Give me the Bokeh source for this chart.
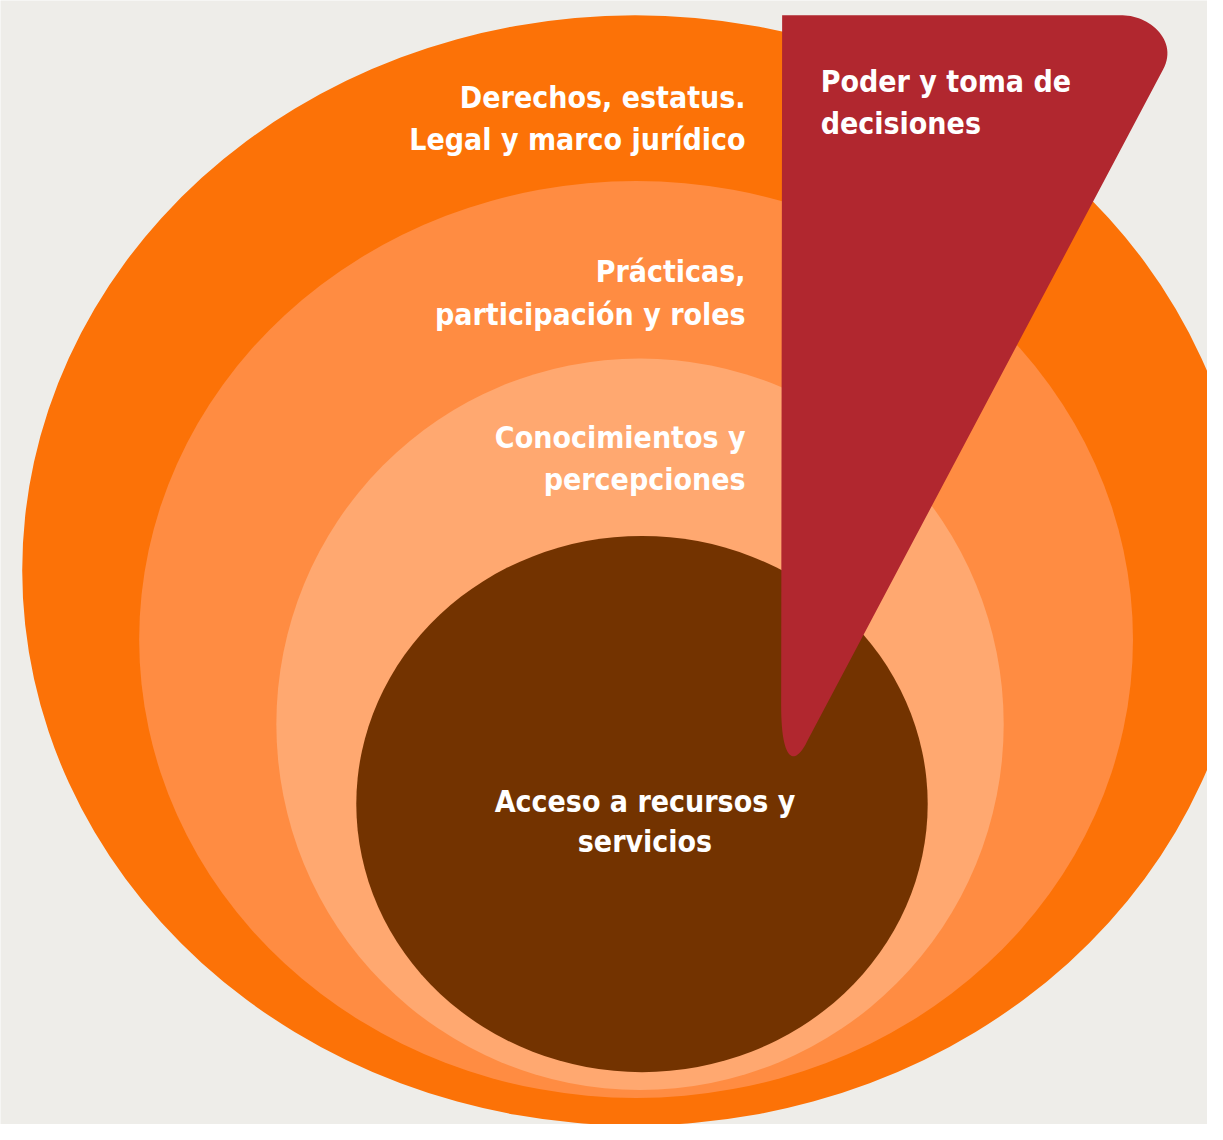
import numpy as np
from bokeh.plotting import figure
from bokeh.models import Range1d, ColumnDataSource
from bokeh.core.properties import value
from bokeh.embed import file_html
from bokeh.resources import INLINE

# ---- data (reference pixel coordinates, y grows downward) ----
ring_names = ["Derechos", "Prácticas", "Conocimientos", "Acceso"]
ring_cx = [643, 644, 648, 650]
ring_cy = [578, 648, 734, 815]
ring_w = [1242, 1007, 737, 579]
ring_h = [1126, 930, 742, 544]
ring_colors = ["#FC7207", "#FF8C42", "#FFA870", "#733300"]

# wedge outline: straight and cubic segments
wedge_start = (792, 15)
wedge_segments = [
    ("L", [(1137, 15)]),
    ("C", [(1163, 15), (1194, 40), (1178, 70)]),
    ("L", [(818, 750)]),
    ("C", [(806, 776), (791, 776), (791, 715)]),
    ("L", [(792, 15)]),
]
wedge_color = "#B1272F"

label_lines = ["Derechos, estatus.", "Legal y marco jurídico",
               "Prácticas,", "participación y roles",
               "Conocimientos y", "percepciones",
               "Acceso a recursos y", "servicios",
               "Poder y toma de", "decisiones"]
label_x = [755, 755, 755, 755, 755, 755, 653, 653, 831, 831]
label_y = [98, 141, 275, 318, 443, 486, 812, 853, 82, 125]
label_align = ["right"] * 6 + ["center"] * 2 + ["left"] * 2

BG = "#EEEDE9"

def build_path(start, segs, n=30):
    xs, ys = [start[0]], [start[1]]
    cur = start
    for kind, pts in segs:
        if kind == "L":
            xs.append(pts[0][0]); ys.append(pts[0][1]); cur = pts[0]
        else:
            p0 = np.array(cur, float)
            p1, p2, p3 = (np.array(q, float) for q in pts)
            t = np.linspace(0, 1, n)[1:, None]
            b = ((1 - t) ** 3) * p0 + 3 * ((1 - t) ** 2) * t * p1 + 3 * (1 - t) * t ** 2 * p2 + t ** 3 * p3
            xs.extend(b[:, 0]); ys.extend(b[:, 1]); cur = pts[-1]
    return xs, ys

W, H = 1207, 1124
p = figure(width=W, height=H, output_backend="svg", toolbar_location=None,
           x_range=Range1d(0, 1223), y_range=Range1d(1140, 0),
           min_border=0, background_fill_color=BG, border_fill_color=BG,
           outline_line_color=None)
p.axis.visible = False
p.grid.visible = False

src = ColumnDataSource(dict(x=ring_cx, y=ring_cy, w=ring_w, h=ring_h, c=ring_colors))
p.ellipse(x="x", y="y", width="w", height="h", fill_color="c", line_color=None, source=src)

wx, wy = build_path(wedge_start, wedge_segments)
p.patch(wx, wy, fill_color=wedge_color, line_color=None)

tsrc = ColumnDataSource(dict(x=label_x, y=label_y, t=label_lines, a=label_align))
p.text(x="x", y="y", text="t", text_align="a", text_baseline="alphabetic",
       text_color="white", text_font_size="30px", text_font_style="bold",
       text_font=value("DejaVu Sans Condensed, Liberation Sans Narrow, Roboto"), source=tsrc)

open("out.html", "w").write(file_html(p, INLINE))
